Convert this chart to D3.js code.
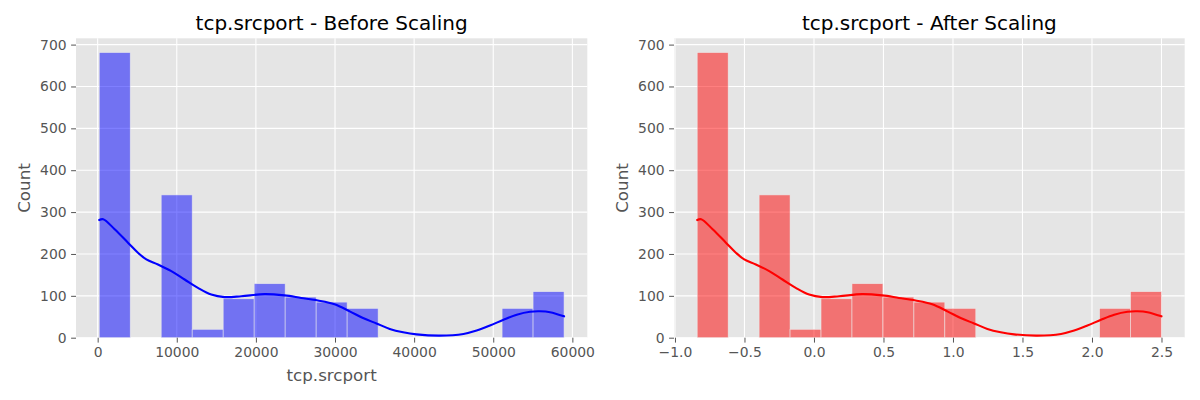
<!DOCTYPE html>
<html>
<head>
<meta charset="utf-8">
<script src="https://cdn.jsdelivr.net/npm/d3@7/dist/d3.min.js"></script>
<style>
  html, body { margin: 0; padding: 0; background: #fff; }
  svg { display: block; font-family: "DejaVu Sans", sans-serif; }
</style>
</head>
<body>
<svg id="chart" width="1200" height="400"></svg>
<script>
// ---------- data ----------
const titles = ["tcp.srcport - Before Scaling", "tcp.srcport - After Scaling"];
const xLabels = ["tcp.srcport", ""];
const yLabel = "Count";

const binCounts = [681, 0, 341, 20, 93, 129, 97, 85, 70, 0, 0, 0, 0, 70, 110];

const binEdgesBefore = [200, 4117, 8033, 11950, 15867, 19783, 23700, 27617, 31533,
  35450, 39367, 43283, 47200, 51117, 55033, 58950];
const binEdgesAfter = [-0.84, -0.6173, -0.3947, -0.172, 0.0507, 0.2733, 0.496, 0.7187,
  0.9413, 1.164, 1.3867, 1.6093, 1.832, 2.0547, 2.2773, 2.5];

const kdeXBefore = [200, 700, 2150, 3830, 5090, 6150, 7620, 9310, 10990, 12670, 14360,
  16040, 18150, 21090, 23620, 25730, 27830, 29940, 31860, 33540, 35240, 36920, 38610,
  40300, 43250, 46240, 47900, 49580, 51300, 52970, 54650, 55910, 57180, 58950];
const kdeXAfter = [-0.84, -0.8116, -0.7291, -0.6336, -0.562, -0.5017, -0.4182, -0.3221,
  -0.2266, -0.1311, -0.035, 0.0605, 0.1805, 0.3476, 0.4914, 0.6114, 0.7308, 0.8507,
  0.9599, 1.0554, 1.152, 1.2476, 1.3436, 1.4397, 1.6074, 1.7773, 1.8717, 1.9672,
  2.065, 2.1599, 2.2554, 2.3271, 2.3993, 2.5];
const kdeCount = [281, 283, 259, 227, 203, 187, 175, 159, 139, 119, 103, 97, 99, 104,
  101, 95, 89, 80, 63, 47, 34, 21, 13, 8, 5, 9, 17, 29, 43, 55, 62, 63, 61, 51];

const yTicks = [0, 100, 200, 300, 400, 500, 600, 700];
const xTicksBefore = [0, 10000, 20000, 30000, 40000, 50000, 60000];
const xTicksAfter = [-1.0, -0.5, 0.0, 0.5, 1.0, 1.5, 2.0, 2.5];

// ---------- drawing ----------
const svg = d3.select("#chart");
const plotTop = 38.3, plotBottom = 337.7;

const panels = [
  { left: 76, right: 587.3, edges: binEdgesBefore, kx: kdeXBefore, ticks: xTicksBefore,
    fill: "blue", line: "blue", title: titles[0], xlabel: xLabels[0],
    fmt: d => String(d) },
  { left: 674, right: 1184.7, edges: binEdgesAfter, kx: kdeXAfter, ticks: xTicksAfter,
    fill: "red", line: "red", title: titles[1], xlabel: xLabels[1],
    fmt: d => d3.format(".1f")(d).replace("-", "\u2212") }
];

panels.forEach(p => {
  const lo = p.edges[0], hi = p.edges[p.edges.length - 1];
  const pad = (hi - lo) * 0.05;
  const x = d3.scaleLinear().domain([lo - pad, hi + pad]).range([p.left, p.right]);
  const ymax = d3.max(binCounts) * 1.05;
  const y = d3.scaleLinear().domain([0, ymax]).range([plotBottom, plotTop]);

  const g = svg.append("g");
  g.append("rect").attr("x", p.left).attr("y", plotTop)
    .attr("width", p.right - p.left).attr("height", plotBottom - plotTop)
    .attr("fill", "#E5E5E5");

  // grid
  g.selectAll(".gx").data(p.ticks).join("line")
    .attr("x1", d => x(d)).attr("x2", d => x(d))
    .attr("y1", plotTop).attr("y2", plotBottom)
    .attr("stroke", "#fff").attr("stroke-width", 1.1);
  g.selectAll(".gy").data(yTicks).join("line")
    .attr("x1", p.left).attr("x2", p.right)
    .attr("y1", d => y(d)).attr("y2", d => y(d))
    .attr("stroke", "#fff").attr("stroke-width", 1.1);

  // bars
  const bins = binCounts.map((c, i) => ({ x0: p.edges[i], x1: p.edges[i + 1], c }));
  g.selectAll(".bar").data(bins.filter(b => b.c > 0)).join("rect")
    .attr("x", d => x(d.x0)).attr("width", d => x(d.x1) - x(d.x0))
    .attr("y", d => y(d.c)).attr("height", d => y(0) - y(d.c))
    .attr("fill", p.fill).attr("fill-opacity", 0.5)
    .attr("stroke", "#EEEEEE").attr("stroke-opacity", 0.75).attr("stroke-width", 0.7);

  // kde line
  const pts = p.kx.map((v, i) => [v, kdeCount[i]]);
  g.append("path").datum(pts)
    .attr("d", d3.line().x(d => x(d[0])).y(d => y(d[1])).curve(d3.curveCatmullRom.alpha(0.5)))
    .attr("fill", "none").attr("stroke", p.line).attr("stroke-width", 2.1)
    .attr("stroke-linecap", "round");

  // x axis
  const xa = g.append("g").attr("transform", `translate(0,${plotBottom})`)
    .call(d3.axisBottom(x).tickValues(p.ticks).tickFormat(p.fmt).tickSize(4.9).tickPadding(4.5));
  xa.select(".domain").remove();
  xa.selectAll("line").attr("stroke", "#555");
  xa.selectAll("text").attr("fill", "#555").attr("font-size", "13.9px")
    .attr("font-family", "DejaVu Sans");

  // y axis
  const ya = g.append("g").attr("transform", `translate(${p.left},0)`)
    .call(d3.axisLeft(y).tickValues(yTicks).tickSize(4.9).tickPadding(4.5));
  ya.select(".domain").remove();
  ya.selectAll("line").attr("stroke", "#555");
  ya.selectAll("text").attr("fill", "#555").attr("font-size", "13.9px")
    .attr("font-family", "DejaVu Sans");

  // title
  g.append("text").attr("x", (p.left + p.right) / 2).attr("y", 30)
    .attr("text-anchor", "middle").attr("font-size", "20px").attr("fill", "#000")
    .text(p.title);

  // labels
  if (p.xlabel) {
    g.append("text").attr("x", (p.left + p.right) / 2).attr("y", 381)
      .attr("text-anchor", "middle").attr("font-size", "16.7px").attr("fill", "#555")
      .text(p.xlabel);
  }
  const yl = p.left - 46;
  g.append("text").attr("transform", `translate(${yl},${(plotTop + plotBottom) / 2}) rotate(-90)`)
    .attr("text-anchor", "middle").attr("font-size", "16.7px").attr("fill", "#555")
    .text(yLabel);
});
</script>
</body>
</html>
